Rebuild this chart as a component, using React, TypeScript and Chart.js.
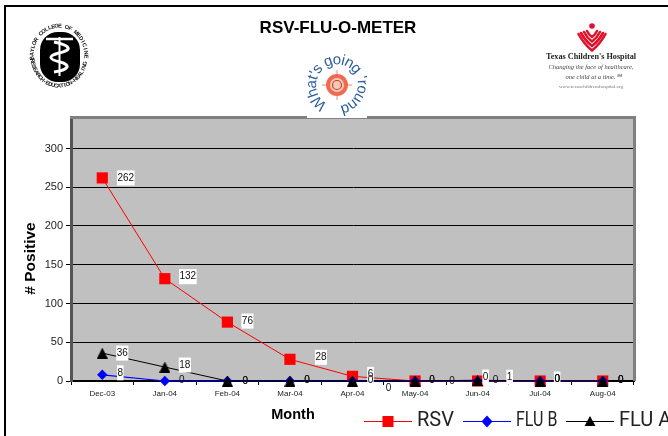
import React, { useEffect, useRef } from "react";
import { Chart, registerables } from "chart.js";

Chart.register(...registerables);

const months = ["Dec-03", "Jan-04", "Feb-04", "Mar-04", "Apr-04", "May-04", "Jun-04", "Jul-04", "Aug-04"];
const rsv = [262, 132, 76, 28, 6, 0, 0, 0, 0];
const fluB = [8, 0, 0, 0, 0, 0, 0, 0, 0];
const fluA = [36, 18, 0, 0, 0, 0, 1, 0, 0];
const yTicks = [0, 50, 100, 150, 200, 250, 300];

// label placement relative to its point: [dx, dy, white box]
const rsvLabelPos: [number, number, number][] = [[23.5, 0, 1], [23, -2, 1], [20, -1, 1], [31, -2, 1], [18, -2, 1], [17, -1, 0], [8, -4, 1], [17, -2, 1], [18, -1, 0]];
const fluBLabelPos: [number, number, number][] = [[18, -2, 1], [17, -1, 0], [18, 0, 0], [17, -1, 0], [18, -1, 0], [17, -1, 0], [18, -1, 0], [17, -2, 0], [18, -1, 0]];
const fluALabelPos: [number, number, number][] = [[20, 0, 1], [20, -2, 1], [18, 0, 0], [17, -1, 0], [36, 7, 0], [37, 0, 0], [32, -3, 1], [17, -2, 0], [18, -1, 0]];

const SANS = '"Liberation Sans", Arial, sans-serif';
const SERIF = '"Liberation Serif", serif';

function trianglePoint(w: number, h: number, color: string) {
  const c = document.createElement("canvas");
  c.width = w;
  c.height = h;
  const g = c.getContext("2d")!;
  g.fillStyle = color;
  g.beginPath();
  g.moveTo(w / 2, 0);
  g.lineTo(w, h);
  g.lineTo(0, h);
  g.closePath();
  g.fill();
  return c;
}

function ellipseText(ctx: CanvasRenderingContext2D, text: string, cx: number, cy: number, rx: number, ry: number, startDeg: number, stepDeg: number, inward: boolean) {
  let a = (startDeg * Math.PI) / 180;
  const step = (stepDeg * Math.PI) / 180;
  for (const ch of text) {
    ctx.save();
    ctx.translate(cx + rx * Math.cos(a), cy + ry * Math.sin(a));
    ctx.rotate(inward ? a + Math.PI / 2 : a - Math.PI / 2);
    ctx.fillText(ch, 0, 0);
    ctx.restore();
    a += step;
  }
}

function ringText(ctx: CanvasRenderingContext2D, text: string, cx: number, cy: number, r: number, startDeg: number, spacing: number) {
  let a = (startDeg * Math.PI) / 180;
  for (const ch of text) {
    const w = ctx.measureText(ch).width + spacing;
    const mid = a + w / 2 / r;
    ctx.save();
    ctx.translate(cx + r * Math.cos(mid), cy + r * Math.sin(mid));
    ctx.rotate(mid + Math.PI / 2);
    ctx.fillText(ch, 0, 0);
    ctx.restore();
    a += w / r;
  }
}

function drawBaylor(ctx: CanvasRenderingContext2D) {
  const cx = 60, cy = 57;
  ctx.save();
  ctx.fillStyle = "#000";
  ctx.beginPath();
  ctx.roundRect(cx - 20, cy - 25, 40, 50, 18);
  ctx.fill();
  ctx.textAlign = "center";
  ctx.textBaseline = "middle";
  ctx.font = `bold 5.6px ${SANS}`;
  ctx.fillStyle = "#111";
  ellipseText(ctx, "BAYLOR COLLEGE OF MEDICINE", 59, 56, 27, 30, 176, 7.4, true);
  ellipseText(ctx, "RESEARCH-EDUCATION-HEALING", 59, 56, 27, 30, 172, -6.3, false);
  ctx.strokeStyle = "#fff";
  ctx.lineWidth = 2.5;
  ctx.beginPath();
  ctx.moveTo(46, 39);
  ctx.lineTo(73, 39);
  ctx.stroke();
  ctx.lineWidth = 2;
  ctx.beginPath();
  ctx.moveTo(59.5, 37);
  ctx.lineTo(59.5, 76);
  ctx.stroke();
  ctx.lineWidth = 3;
  ctx.beginPath();
  ctx.moveTo(54, 42);
  ctx.bezierCurveTo(72, 46, 72, 50, 59, 53);
  ctx.bezierCurveTo(48, 56, 48, 59, 60, 62);
  ctx.bezierCurveTo(72, 65, 68, 70, 54, 72);
  ctx.stroke();
  ctx.restore();
}

function drawRound(ctx: CanvasRenderingContext2D) {
  const cx = 337, cy = 85;
  ctx.save();
  ctx.fillStyle = "#fff";
  ctx.fillRect(307, 50, 60, 68);
  ctx.textAlign = "center";
  ctx.textBaseline = "middle";
  ctx.fillStyle = "#2c5f9e";
  ctx.font = `15px ${SANS}`;
  ringText(ctx, "What's going 'round", cx, cy, 25, 118, 0.5);
  ctx.strokeStyle = "#f08a70";
  ctx.lineWidth = 1;
  ctx.beginPath();
  ctx.moveTo(cx - 15, cy); ctx.lineTo(cx + 15, cy);
  ctx.moveTo(cx, cy - 15); ctx.lineTo(cx, cy + 15);
  ctx.stroke();
  ctx.fillStyle = "#ee6a50";
  ctx.beginPath();
  ctx.arc(cx, cy, 11, 0, Math.PI * 2);
  ctx.fill();
  ctx.fillStyle = "#f7c9b8";
  ctx.beginPath();
  ctx.arc(cx, cy, 7, 0, Math.PI * 2);
  ctx.fill();
  ctx.strokeStyle = "#c8402c";
  ctx.lineWidth = 1.2;
  ctx.beginPath();
  ctx.arc(cx, cy, 4.5, 0, Math.PI * 2);
  ctx.stroke();
  ctx.restore();
}

function drawTexas(ctx: CanvasRenderingContext2D) {
  const cx = 592;
  ctx.save();
  ctx.fillStyle = "#e0112b";
  ctx.beginPath();
  ctx.arc(cx, 26, 2.8, 0, Math.PI * 2);
  ctx.fill();
  ctx.strokeStyle = "#e0112b";
  ctx.lineWidth = 2.6;
  ctx.lineCap = "round";
  ctx.lineJoin = "round";
  const chevs: [number, number][] = [[5, 31], [8, 32], [11, 33], [13.5, 34]];
  chevs.forEach(([w, y], i) => {
    ctx.beginPath();
    ctx.moveTo(cx - w, y);
    ctx.quadraticCurveTo(cx - w * 0.6, y + 4 + i * 2, cx, y + 6 + i * 3.5);
    ctx.quadraticCurveTo(cx + w * 0.6, y + 4 + i * 2, cx + w, y);
    ctx.stroke();
  });
  ctx.textAlign = "center";
  ctx.textBaseline = "middle";
  ctx.fillStyle = "#222";
  ctx.font = `bold 8.2px ${SERIF}`;
  ctx.fillText("Texas Children's Hospital", 591, 57);
  ctx.fillStyle = "#444";
  ctx.font = `italic 6.5px ${SERIF}`;
  ctx.fillText("Changing the face of healthcare,", 591, 67);
  ctx.fillText("one child at a time.\u2120", 593, 77);
  ctx.fillStyle = "#777";
  ctx.font = `5px ${SERIF}`;
  ctx.fillText("www.texaschildrenshospital.org", 591, 87);
  ctx.restore();
}

const layoutPlugin = {
  id: "titleShift",
  afterLayout(chart: any) {
    if (chart.titleBlock) {
      chart.titleBlock.left = 8;
      chart.titleBlock.right = 668;
    }
  },
};

const backdropPlugin = {
  id: "backdrop",
  beforeDraw(chart: any) {
    const { ctx, chartArea: a } = chart;
    ctx.save();
    ctx.fillStyle = "#fff";
    ctx.fillRect(0, 0, chart.width, chart.height);
    ctx.fillStyle = "#000";
    ctx.fillRect(4, 5, 2, chart.height - 5);
    ctx.fillRect(4, 5, chart.width - 4, 2);
    ctx.fillStyle = "#c0c0c0";
    ctx.fillRect(a.left, a.top, a.right - a.left, a.bottom - a.top);
    ctx.restore();
  },
  beforeDatasetsDraw(chart: any) {
    const { ctx, chartArea: a } = chart;
    ctx.save();
    ctx.fillStyle = "#808080";
    ctx.fillRect(a.left - 1, a.top - 1, a.right - a.left + 3, 3);
    ctx.fillRect(a.right - 1, a.top - 1, 3, a.bottom - a.top + 1);
    ctx.restore();
  },
};

const labelPositions = [rsvLabelPos, fluBLabelPos, fluALabelPos];

const labelsPlugin = {
  id: "valueLabels",
  afterDatasetsDraw(chart: any) {
    const { ctx } = chart;
    ctx.save();
    ctx.font = `10px ${SANS}`;
    ctx.textAlign = "center";
    ctx.textBaseline = "middle";
    chart.data.datasets.forEach((ds: any, i: number) => {
      const meta = chart.getDatasetMeta(i);
      meta.data.forEach((pt: any, j: number) => {
        const [dx, dy, boxed] = labelPositions[i][j];
        const x = pt.x + dx, y = pt.y + dy;
        const s = String(ds.data[j]);
        if (boxed) {
          const w = ctx.measureText(s).width + 1;
          ctx.fillStyle = "#fff";
          ctx.fillRect(x - w / 2, y - 7.5, w, 15);
        }
        ctx.fillStyle = "#111";
        ctx.fillText(s, x, y);
      });
    });
    ctx.restore();
  },
};

const overlayPlugin = {
  id: "overlay",
  afterDraw(chart: any) {
    const { ctx } = chart;
    drawBaylor(ctx);
    drawRound(ctx);
    drawTexas(ctx);
    ctx.save();
    ctx.fillStyle = "#000";
    ctx.textAlign = "center";
    ctx.textBaseline = "middle";
    ctx.font = `bold 14.5px ${SANS}`;
    ctx.fillText("Month", 293, 415);
    ctx.save();
    ctx.translate(31, 258.5);
    ctx.rotate(-Math.PI / 2);
    ctx.font = `bold 15.5px ${SANS}`;
    ctx.fillText("# Positive", 0, 0);
    ctx.restore();
    // legend
    const xs = [388, 487, 590];
    const squeeze = [1, 0.8, 1];
    ctx.textAlign = "left";
    ctx.font = `400 20px Roboto, ${SANS}`;
    chart.data.datasets.forEach((ds: any, i: number) => {
      const x = xs[i], y = 421;
      ctx.strokeStyle = ds.borderColor;
      ctx.lineWidth = 1;
      ctx.beginPath();
      ctx.moveTo(x - 24, y + 0.5);
      ctx.lineTo(x + 24, y + 0.5);
      ctx.stroke();
      ctx.fillStyle = ds.backgroundColor;
      ctx.beginPath();
      if (i === 0) {
        ctx.rect(x - 5.5, y - 5, 11, 11);
      } else if (i === 1) {
        ctx.moveTo(x, y - 5.5); ctx.lineTo(x + 5.5, y + 0.5); ctx.lineTo(x, y + 6.5); ctx.lineTo(x - 5.5, y + 0.5); ctx.closePath();
      } else {
        ctx.moveTo(x, y - 5); ctx.lineTo(x + 5.5, y + 5); ctx.lineTo(x - 5.5, y + 5); ctx.closePath();
      }
      ctx.fill();
      ctx.fillStyle = "#222";
      ctx.save();
      ctx.translate(x + 29, y);
      ctx.scale(squeeze[i], 1);
      ctx.fillText(ds.label, 0, 0);
      ctx.restore();
    });
    ctx.restore();
  },
};

export default function App() {
  const ref = useRef<HTMLCanvasElement>(null);
  useEffect(() => {
    const chart = new Chart(ref.current!, {
      type: "line",
      data: {
        labels: months,
        datasets: [
          { label: "RSV", data: rsv, borderColor: "#ff0000", backgroundColor: "#ff0000", pointBackgroundColor: "#ff0000", pointBorderColor: "#ff0000", pointStyle: "rect", pointRadius: 7.9, pointBorderWidth: 0, borderWidth: 1, tension: 0, clip: false, order: 3 },
          { label: "FLU B", data: fluB, borderColor: "#0000ff", backgroundColor: "#0000ff", pointBackgroundColor: "#0000ff", pointBorderColor: "#0000ff", pointStyle: "rectRot", pointRadius: 5.2, pointBorderWidth: 0, borderWidth: 1.2, tension: 0, clip: false, order: 2 },
          { label: "FLU A", data: fluA, borderColor: "#000000", backgroundColor: "#000000", pointBackgroundColor: "#000000", pointBorderColor: "#000000", pointStyle: trianglePoint(11, 11, "#000000"), pointRadius: 6, pointBorderWidth: 0, borderWidth: 1, tension: 0, clip: false, order: 1 },
        ],
      },
      options: {
        animation: false,
        responsive: false,
        layout: { padding: { left: 0, right: 34, top: 0, bottom: 0 } },
        plugins: {
          legend: { display: false },
          tooltip: { enabled: false },
          title: {
            display: true,
            text: "RSV-FLU-O-METER",
            color: "#000",
            font: { family: SANS, size: 17, weight: "bold", lineHeight: 1.2 },
            padding: { top: 17.8, bottom: 78.8 },
          },
        },
        scales: {
          x: {
            offset: true,
            afterFit(s: any) { s.height = 55; },
            grid: { drawOnChartArea: false, drawTicks: true, tickLength: 4, color: "#000", offset: true },
            border: { color: "#000", width: 2 },
            ticks: { color: "#222", font: { family: SANS, size: 8 }, padding: 4, maxRotation: 0, autoSkip: false },
          },
          y: {
            min: 0,
            max: 340.6,
            afterFit(s: any) { s.width = 71; },
            afterBuildTicks(s: any) { s.ticks = yTicks.map((value) => ({ value })); },
            grid: { color: "#000", lineWidth: 1, tickLength: 5 },
            border: { color: "#555", width: 3 },
            ticks: { color: "#222", font: { family: SANS, size: 11 }, padding: 3 },
          },
        },
      },
      plugins: [layoutPlugin, backdropPlugin, labelsPlugin, overlayPlugin],
    } as any);
    return () => chart.destroy();
  }, []);
  return <canvas ref={ref} width={668} height={436} style={{ position: "fixed", left: 0, top: 0, display: "block" }} />;
}
